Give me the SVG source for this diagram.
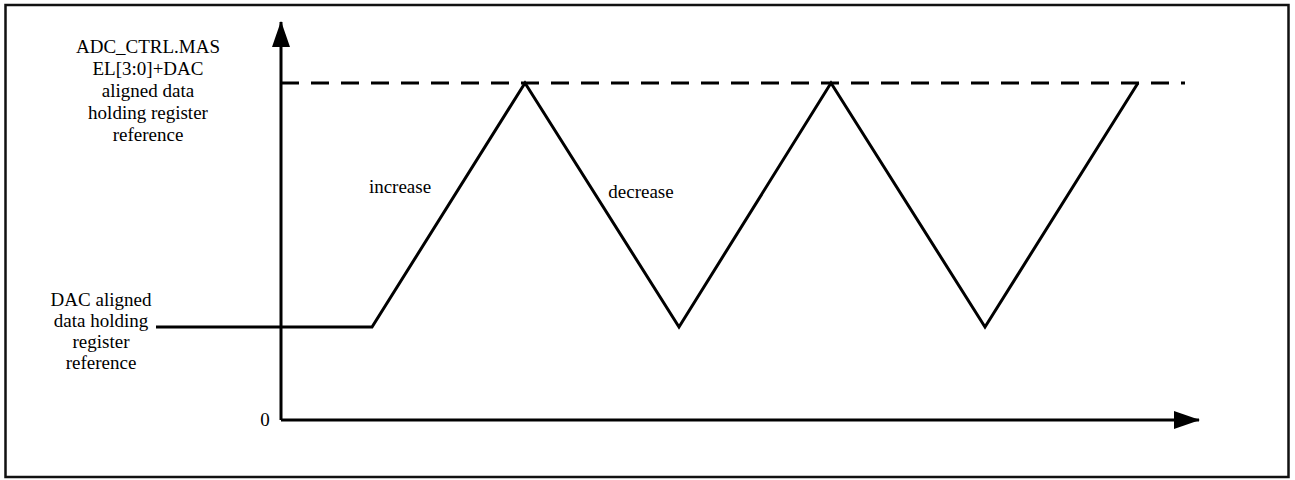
<svg xmlns="http://www.w3.org/2000/svg" width="1295" height="480" viewBox="0 0 1295 480">
<style>
.t{font-family:"Liberation Serif","Times New Roman",serif;font-size:19px;fill:#000;text-anchor:middle}
.l{fill:none;stroke:#000;stroke-width:3}
</style>
<defs>
<marker id="ah" markerWidth="26" markerHeight="18" refX="25" refY="9" orient="auto" markerUnits="userSpaceOnUse">
<path d="M0,0 L26,9 L0,18 Z" fill="#000"/>
</marker>
</defs>
<rect x="5.5" y="5" width="1283" height="472" fill="#fff" stroke="#111" stroke-width="2.5"/>
<g id="axes">
<line class="l" x1="281" y1="420" x2="281" y2="22" marker-end="url(#ah)"/>
<line class="l" x1="281" y1="420" x2="1199" y2="420" marker-end="url(#ah)"/>
</g>
<g id="connectors">
<line class="l" x1="281" y1="83" x2="1185" y2="83" stroke-dasharray="18 12"/>
<polyline class="l" points="156,327 372,327 525,83 679,327 831,83 985,327 1138,83"/>
</g>
<g id="label-top">
<text class="t" x="148" y="53">ADC_CTRL.MAS</text>
<text class="t" x="148" y="75">EL[3:0]+DAC</text>
<text class="t" x="148" y="97">aligned data</text>
<text class="t" x="148" y="119">holding register</text>
<text class="t" x="148" y="141">reference</text>
</g>
<g id="label-bottom">
<text class="t" x="101" y="306">DAC aligned</text>
<text class="t" x="101" y="327">data holding</text>
<text class="t" x="101" y="348">register</text>
<text class="t" x="101" y="369">reference</text>
</g>
<g id="label-zero"><text class="t" x="265" y="426">0</text></g>
<g id="label-increase"><text class="t" x="400" y="193">increase</text></g>
<g id="label-decrease"><text class="t" x="641" y="198">decrease</text></g>
</svg>
